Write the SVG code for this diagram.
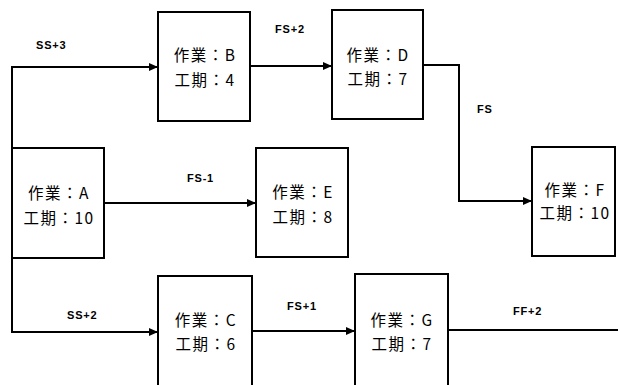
<svg xmlns="http://www.w3.org/2000/svg" width="618" height="385" viewBox="0 0 618 385">
<style>
.box{fill:#fff;stroke:#000;stroke-width:2}
.nt{font-family:"Noto Sans CJK JP","Noto Sans",sans-serif;font-size:15.5px;letter-spacing:1.5px;fill:#000;text-anchor:middle}
.lb{font-family:"Liberation Sans","DejaVu Sans",sans-serif;font-size:11px;font-weight:bold;letter-spacing:0.8px;fill:#000}
.ln{fill:none;stroke:#000;stroke-width:2}
</style>
<defs>
<marker id="ah" markerUnits="userSpaceOnUse" markerWidth="9" markerHeight="8" refX="9" refY="4" orient="auto">
<path d="M0,0 L9,4 L0,8 z" fill="#000"/>
</marker>
</defs>
<rect width="618" height="385" fill="#fff"/>
<g id="connectors">
<path class="ln" d="M12,148 V67 H158" marker-end="url(#ah)"/>
<path class="ln" d="M250,66 H332" marker-end="url(#ah)"/>
<path class="ln" d="M423,65 H459 V201 H532" marker-end="url(#ah)"/>
<path class="ln" d="M104,203 H256" marker-end="url(#ah)"/>
<path class="ln" d="M12,258 V332 H158" marker-end="url(#ah)"/>
<path class="ln" d="M252,331 H355" marker-end="url(#ah)"/>
<path class="ln" d="M448,330 H618"/>
<text class="lb" x="36" y="49">SS+3</text>
<text class="lb" x="275" y="33">FS+2</text>
<text class="lb" x="187" y="182">FS-1</text>
<text class="lb" x="477" y="113">FS</text>
<text class="lb" x="67" y="319">SS+2</text>
<text class="lb" x="287" y="310">FS+1</text>
<text class="lb" x="513" y="315">FF+2</text>
</g>
<g id="node-A">
<rect class="box" x="12" y="148" width="92" height="110"/>
<text class="nt" x="59" y="199">作業：A</text>
<text class="nt" x="59" y="224">工期：10</text>
</g>
<g id="node-B">
<rect class="box" x="158" y="12" width="92" height="109"/>
<text class="nt" x="205" y="61">作業：B</text>
<text class="nt" x="205" y="86">工期：4</text>
</g>
<g id="node-C">
<rect class="box" x="158" y="276" width="94" height="114"/>
<text class="nt" x="206" y="326">作業：C</text>
<text class="nt" x="206" y="350">工期：6</text>
</g>
<g id="node-D">
<rect class="box" x="332" y="10" width="91" height="109"/>
<text class="nt" x="378" y="61">作業：D</text>
<text class="nt" x="378" y="85">工期：7</text>
</g>
<g id="node-E">
<rect class="box" x="256" y="148" width="92" height="109"/>
<text class="nt" x="303" y="198">作業：E</text>
<text class="nt" x="303" y="223">工期：8</text>
</g>
<g id="node-F">
<rect class="box" x="532" y="147" width="83" height="109"/>
<text class="nt" x="575" y="196">作業：F</text>
<text class="nt" x="575" y="219">工期：10</text>
</g>
<g id="node-G">
<rect class="box" x="355" y="274" width="93" height="116"/>
<text class="nt" x="402" y="326">作業：G</text>
<text class="nt" x="402" y="350">工期：7</text>
</g>
</svg>
